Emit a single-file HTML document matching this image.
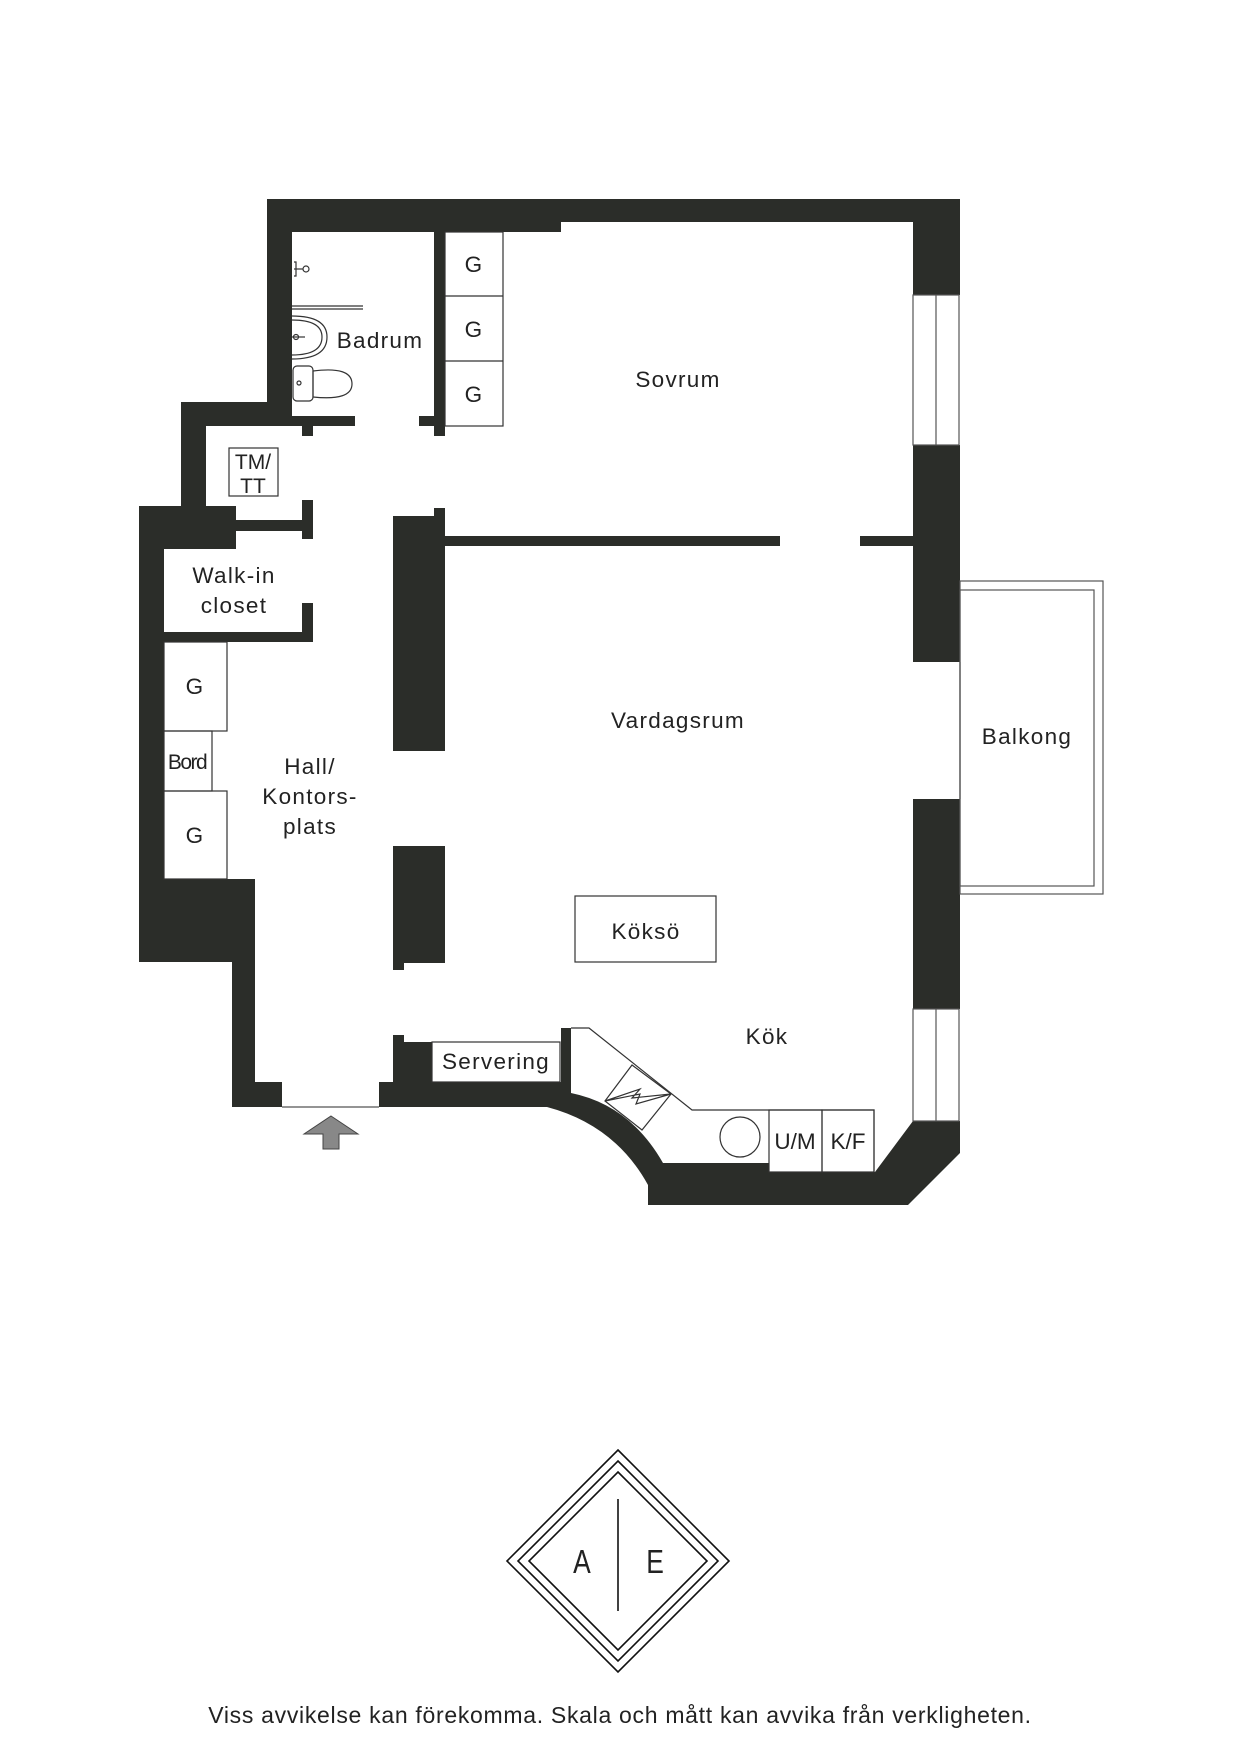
<!DOCTYPE html>
<html><head><meta charset="utf-8"><style>
html,body{margin:0;padding:0;background:#fff;}
svg{display:block;}
text{font-family:"Liberation Sans",sans-serif;fill:#222;}
</style></head><body>
<svg width="1240" height="1754" viewBox="0 0 1240 1754" xmlns="http://www.w3.org/2000/svg">
<g fill="#2b2d29">
<rect x="267" y="199" width="693" height="23"/>
<rect x="267" y="222" width="294" height="10"/>
<rect x="913" y="199" width="47" height="96"/>
<rect x="913" y="445" width="47" height="217"/>
<rect x="913" y="799" width="47" height="210"/>
<path d="M561,1107 L547,1107 Q615,1125 648,1185 L648,1205 L908,1205 L960,1153 L960,1121 L913,1121 L875,1172 L769,1172 L769,1163 L663,1163 Q630,1105 571,1093 L571,1107 Z"/>
<rect x="267" y="199" width="25" height="227"/>
<rect x="181" y="402" width="111" height="24"/>
<rect x="292" y="416" width="63" height="10"/>
<rect x="302" y="426" width="11" height="10"/>
<rect x="181" y="402" width="25" height="129"/>
<rect x="139" y="506" width="97" height="43"/>
<rect x="206" y="520" width="107" height="11"/>
<rect x="302" y="500" width="11" height="39"/>
<rect x="139" y="506" width="25" height="456"/>
<rect x="164" y="632" width="149" height="10"/>
<rect x="302" y="603" width="11" height="39"/>
<rect x="139" y="879" width="93" height="83"/>
<rect x="232" y="879" width="23" height="228"/>
<rect x="232" y="1082" width="50" height="25"/>
<rect x="434" y="232" width="11" height="204"/>
<rect x="419" y="416" width="15" height="10"/>
<rect x="393" y="516" width="52" height="235"/>
<rect x="434" y="508" width="11" height="8"/>
<rect x="445" y="536" width="335" height="10"/>
<rect x="860" y="536" width="53" height="10"/>
<rect x="393" y="846" width="52" height="117"/>
<rect x="393" y="963" width="11" height="7"/>
<rect x="393" y="1042" width="39" height="40"/>
<rect x="393" y="1035" width="11" height="7"/>
<rect x="379" y="1082" width="182" height="25"/>
<rect x="561" y="1028" width="10" height="80"/>
</g>
<g fill="none" stroke="#555" stroke-width="1.2">
<rect x="913" y="295" width="46" height="150"/><line x1="936" y1="295" x2="936" y2="445"/>
<rect x="913" y="1009" width="46" height="112"/><line x1="936" y1="1009" x2="936" y2="1121"/>
<line x1="960" y1="662" x2="960" y2="799"/>
<rect x="960" y="581" width="143" height="313"/>
<rect x="960" y="590" width="134" height="296"/>
<line x1="282" y1="1107" x2="379" y2="1107"/>
</g>
<g fill="none" stroke="#333" stroke-width="1.2">
<rect x="445" y="232" width="58" height="194"/><line x1="445" y1="296" x2="503" y2="296"/><line x1="445" y1="361" x2="503" y2="361"/>
<rect x="229" y="448" width="49" height="48"/>
<rect x="164" y="642" width="63" height="89"/>
<rect x="164" y="731" width="48" height="60"/>
<rect x="164" y="791" width="63" height="88"/>
<rect x="432" y="1042" width="128" height="40"/>
<rect x="575" y="896" width="141" height="66"/>
<path d="M571,1028 L589,1028 L692,1110 L874,1110 L874,1172"/>
<rect x="769" y="1110" width="53" height="62"/><rect x="822" y="1110" width="52" height="62"/>
<circle cx="740" cy="1137" r="20"/>
<path d="M605,1101 L632,1065 L671,1094 L642,1130 Z"/>
<path d="M605,1101 L640,1089 L632,1098 L671,1094 L636,1104 L640,1094 Z"/>
<path d="M292,316 Q327,316 327,337 Q327,359 292,359"/><path d="M292,320 Q322,320 322,337 Q322,355 292,355"/>
<line x1="292" y1="337" x2="305" y2="337"/><circle cx="296" cy="337" r="2.5"/>
<rect x="293" y="366" width="20" height="35" rx="4"/>
<path d="M313,371 Q352,366 352,384 Q352,401 313,397 Z"/>
<circle cx="299" cy="383" r="2"/>
<line x1="292" y1="306" x2="363" y2="306"/><line x1="292" y1="309" x2="363" y2="309"/>
<line x1="294" y1="269" x2="303" y2="269"/><circle cx="306" cy="269" r="3"/><path d="M294,262 L296,262 L296,276 L294,276"/>
</g>
<path d="M331,1116 L358,1134 L339,1134 L339,1149 L323,1149 L323,1134 L304,1134 Z" fill="#888" stroke="#444" stroke-width="1"/>
<g font-size="22.5" text-anchor="middle" letter-spacing="1.3">
<text x="678" y="387">Sovrum</text>
<text x="380" y="348">Badrum</text>
<text x="474" y="272">G</text><text x="474" y="337">G</text><text x="474" y="402">G</text>
<text x="253" y="469" font-size="21" letter-spacing="0">TM/</text><text x="253" y="493" font-size="21" letter-spacing="0">TT</text>
<text x="234" y="583">Walk-in</text><text x="234" y="613">closet</text>
<text x="195" y="694">G</text><text x="195" y="843">G</text>
<text x="187" y="769" font-size="21" letter-spacing="-1.5">Bord</text>
<text x="310" y="774">Hall/</text><text x="310" y="804">Kontors-</text><text x="310" y="834">plats</text>
<text x="678" y="728">Vardagsrum</text>
<text x="1027" y="744">Balkong</text>
<text x="646" y="939">Köksö</text>
<text x="767" y="1044">Kök</text>
<text x="496" y="1069">Servering</text>
<text x="795" y="1149" letter-spacing="0">U/M</text><text x="848" y="1149" letter-spacing="0">K/F</text>
</g>
<g fill="none" stroke="#111" stroke-width="1.6">
<path d="M618,1450 L729,1561 L618,1672 L507,1561 Z"/>
<path d="M618,1461 L718,1561 L618,1661 L518,1561 Z"/>
<path d="M618,1472 L707,1561 L618,1650 L529,1561 Z"/>
<line x1="618" y1="1499" x2="618" y2="1611"/>
</g>
<text x="582" y="1573" font-size="33" text-anchor="middle" transform="translate(582,1573) scale(0.8,1) translate(-582,-1573)">A</text>
<text x="655" y="1573" font-size="33" text-anchor="middle" transform="translate(655,1573) scale(0.8,1) translate(-655,-1573)">E</text>
<text x="620" y="1723" font-size="23" letter-spacing="0.7" text-anchor="middle">Viss avvikelse kan förekomma. Skala och mått kan avvika från verkligheten.</text>
</svg>
</body></html>
